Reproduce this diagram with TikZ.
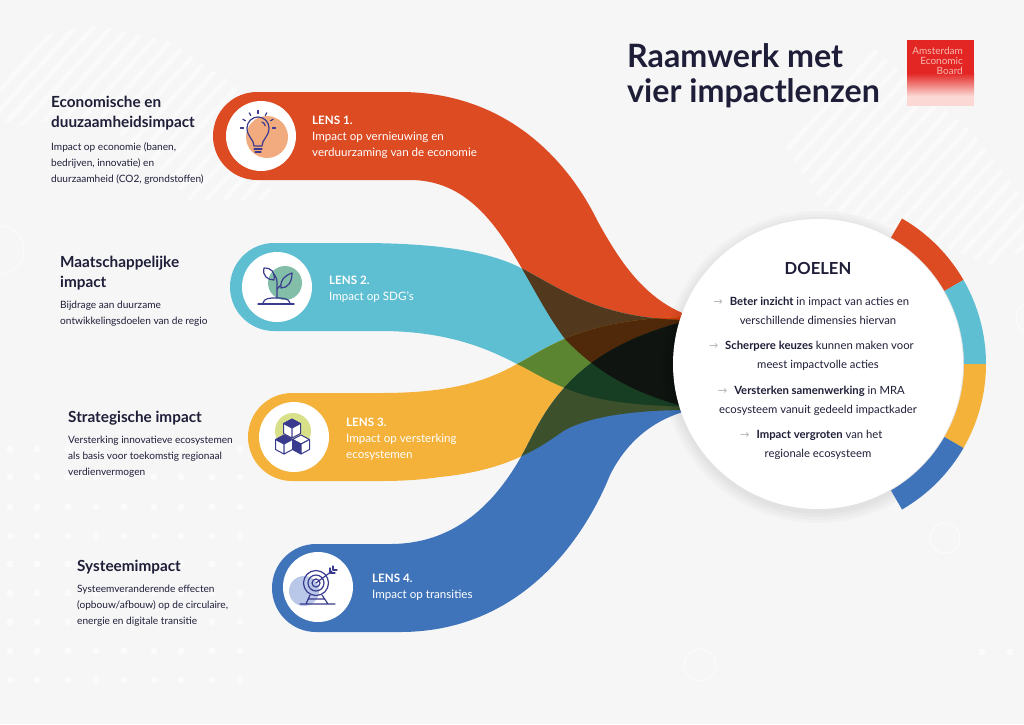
\documentclass[tikz,border=0pt]{standalone}
\usepackage{fontspec}
\setmainfont{Lato}
\newfontfamily\arrowfont{DejaVu Sans}
\definecolor{bgrey}{HTML}{F6F6F7}
\definecolor{lensred}{HTML}{DD4B22}
\definecolor{lensteal}{HTML}{5FBFD2}
\definecolor{lensyellow}{HTML}{F4B23A}
\definecolor{lensblue}{HTML}{3F74BA}
\definecolor{navy}{HTML}{3A3A8E}
\definecolor{inktext}{HTML}{1E1E38}
\definecolor{logored}{HTML}{E32624}
\definecolor{logopale}{HTML}{FBD8D3}
\definecolor{logoink}{HTML}{F6B8B0}
\definecolor{iconpeach}{HTML}{F2AB7E}
\definecolor{icongreen}{HTML}{83BFA8}
\definecolor{iconlime}{HTML}{D9E08A}
\definecolor{iconsky}{HTML}{B9C8E8}
\definecolor{ovRT}{HTML}{52381C}\definecolor{ovRY}{HTML}{D33408}\definecolor{ovRB}{HTML}{372219}
\definecolor{ovTY}{HTML}{5B8530}\definecolor{ovTB}{HTML}{175799}\definecolor{ovYB}{HTML}{3C512B}
\definecolor{ovRTY}{HTML}{50280A}\definecolor{ovRTB}{HTML}{141A14}\definecolor{ovRYB}{HTML}{341806}
\definecolor{ovTYB}{HTML}{173D23}\definecolor{ovAll}{HTML}{101410}
\tikzset{
  headtext/.style={anchor=north west, inner sep=0pt, align=left, text=inktext, font=\fontsize{15.3}{20}\selectfont\bfseries},
  bodytext/.style={anchor=north west, inner sep=0pt, align=left, text=inktext, font=\fontsize{10.1}{16}\selectfont},
  lenstext/.style={anchor=north west, inner sep=0pt, align=left, text=white, font=\fontsize{11.6}{16}\selectfont},
  goaltext/.style={anchor=center, inner sep=0pt, align=center, text=inktext, font=\fontsize{11.3}{18.6}\selectfont},
  icon/.style={draw=navy, line width=1.2pt, line cap=round, line join=round},
  stripe/.style={white, opacity=0.5, line width=4.5pt},
  faintring/.style={draw=white, opacity=0.45, line width=1.5pt}
}
\newcommand{\goalarrow}{\hspace*{3pt}\llap{{\arrowfont\textcolor{black!28}{→}}\hspace{7pt}}}
\newcommand{\bandred}{(257,92)--(400,92) .. controls (510,92) and (570,165) .. (597,220) .. controls (620,262) and (645,300) .. (690,316)--(690,408) .. controls (625,392) and (590,365) .. (565,339) .. controls (520,280) and (495,180) .. (410,180)--(257,180) arc (90:270:44)--cycle}
\newcommand{\bandteal}{(274,243)--(360,243) .. controls (440,243) and (490,252) .. (521,268) .. controls (560,288) and (600,320) .. (690,320)--(690,407) .. controls (640,405) and (600,403) .. (565,388) .. controls (545,380) and (530,370) .. (517,364) .. controls (490,350) and (450,331) .. (380,331)--(274,331) arc (90:270:44)--cycle}
\newcommand{\bandyellow}{(292,393)--(380,393) .. controls (440,393) and (480,385) .. (517,364) .. controls (545,350) and (580,318) .. (690,317)--(690,410) .. controls (630,410) and (590,417) .. (565,430) .. controls (540,447) and (510,470) .. (440,477) .. controls (420,480) and (400,481) .. (380,481)--(292,481) arc (90:270:44)--cycle}
\newcommand{\bandblue}{(316,544)--(390,544) .. controls (465,544) and (505,490) .. (530,440) .. controls (555,390) and (590,345) .. (690,320)--(690,410) .. controls (650,420) and (625,445) .. (610,475) .. controls (590,525) and (530,632) .. (400,632)--(316,632) arc (90:270:44)--cycle}
\begin{document}
\begin{tikzpicture}[x=1pt,y=-1pt]
\useasboundingbox (0,0) rectangle (1024,724);
\fill[bgrey] (0,0) rectangle (1024,724);

% background stripes
\begin{scope}
\clip (0,75)--(33,37)--(97,25)--(170,42)--(235,85)--(277,207)--(233,247)--(180,190)--(100,115)--(20,125)--(0,120)--cycle;
\foreach \s in {0,18,...,540} \draw[stripe] (\s-100,200)--(\s+100,-20);
\end{scope}
\begin{scope}
\clip (777,133)--(814,27)--(867,43)--(970,130)--(1024,200)--(1024,250)--(990,265)--(890,225)--(824,207)--cycle;
\foreach \s in {0,18,...,540} \draw[stripe] (\s+650,300)--(\s+950,-30);
\end{scope}

% background dots
\foreach \dx in {10,37,68,96,124,154,181,212,240}
  \foreach \dy in {449,477,507,536,564,593,622,651,680}
    \fill[white, opacity=0.6] (\dx,\dy) circle (3.5);
\fill[white, opacity=0.6] (982,652) circle (3.5) (1010,652) circle (3.5);
\draw[faintring] (945,538) circle (15);
\draw[faintring] (700,665) circle (16);
\draw[faintring] (0,250) circle (24);
\draw[faintring] (1032,318) circle (16);

% the four lenses
\fill[lensred] \bandred;
\fill[lensteal] \bandteal;
\fill[lensyellow] \bandyellow;
\fill[lensblue] \bandblue;
% where they overlap
\begin{scope}\clip \bandred;\clip \bandteal;\fill[ovRT] (0,0) rectangle (1024,724);\end{scope}
\begin{scope}\clip \bandred;\clip \bandyellow;\fill[ovRY] (0,0) rectangle (1024,724);\end{scope}
\begin{scope}\clip \bandred;\clip \bandblue;\fill[ovRB] (0,0) rectangle (1024,724);\end{scope}
\begin{scope}\clip \bandteal;\clip \bandyellow;\fill[ovTY] (0,0) rectangle (1024,724);\end{scope}
\begin{scope}\clip \bandteal;\clip \bandblue;\fill[ovTB] (0,0) rectangle (1024,724);\end{scope}
\begin{scope}\clip \bandyellow;\clip \bandblue;\fill[ovYB] (0,0) rectangle (1024,724);\end{scope}
\begin{scope}\clip \bandred;\clip \bandteal;\clip \bandyellow;\fill[ovRTY] (0,0) rectangle (1024,724);\end{scope}
\begin{scope}\clip \bandred;\clip \bandteal;\clip \bandblue;\fill[ovRTB] (0,0) rectangle (1024,724);\end{scope}
\begin{scope}\clip \bandred;\clip \bandyellow;\clip \bandblue;\fill[ovRYB] (0,0) rectangle (1024,724);\end{scope}
\begin{scope}\clip \bandteal;\clip \bandyellow;\clip \bandblue;\fill[ovTYB] (0,0) rectangle (1024,724);\end{scope}
\begin{scope}\clip \bandred;\clip \bandteal;\clip \bandyellow;\clip \bandblue;\fill[ovAll] (0,0) rectangle (1024,724);\end{scope}

% ring and circle
\foreach \rad in {156,153,150,147}
  \fill[black, opacity=0.02] (818,367) circle (\rad);
\foreach \aone/\atwo/\col in {-60/-30/lensred,-30/0/lensteal,0/30/lensyellow,30/60/lensblue}
  \fill[\col, shift={(818,364)}] (\aone:168) arc (\aone:\atwo:168)--(\atwo:146) arc (\atwo:\aone:146)--cycle;
\fill[white] (818,364) circle (145);

% icon discs
\fill[white] (261,136) circle (35) (277,287) circle (35) (294,437) circle (35) (318,587) circle (35);

% bulb
\fill[iconpeach] (267,137) circle (21);
\draw[icon] (254,146) .. controls (254,139) and (247,137) .. (247,128) arc (180:360:11) .. controls (269,137) and (262,139) .. (262,146)--cycle;
\draw[icon] (254,149)--(262,149) (255,152)--(261,152);
\draw[icon] (262,122) arc (-70:-10:5);
\foreach \a in {180,210,240,270,300,330,360}
  \draw[icon, shift={(258,128)}] (\a:14.5)--(\a:17.5);

% plant
\fill[icongreen] (285,283) circle (17);
\draw[icon] (258,304)--(294,304);
\draw[icon] (263,303) .. controls (264,298) and (270,298) .. (276,298) .. controls (282,298) and (289,298) .. (290,303);
\draw[icon] (277,298)--(277,282) .. controls (277,278) and (275,276) .. (274,274);
\draw[icon] (277,289) .. controls (279,287) and (280,286) .. (281,285);
\draw[icon] (264,268) .. controls (272,268) and (275,272) .. (274,280) .. controls (268,280) and (262,276) .. (264,268)--cycle;
\draw[icon] (292,273) .. controls (292,282) and (288,288) .. (281,288) .. controls (280,280) and (284,276) .. (292,273)--cycle;

% cubes
\fill[iconlime] (293,431) circle (18);
\foreach \cx/\cy/\ctop/\cleft in {292/428/navy/white,284/444/navy/white,301/444/white/navy}{
  \begin{scope}[shift={(\cx,\cy)}]
    \filldraw[icon, line width=1pt, fill=\ctop] (0,-9)--(8.5,-4.5)--(0,0)--(-8.5,-4.5)--cycle;
    \filldraw[icon, line width=1pt, fill=\cleft] (-8.5,-4.5)--(0,0)--(0,10)--(-8.5,5.5)--cycle;
    \filldraw[icon, line width=1pt, fill=white] (8.5,-4.5)--(0,0)--(0,10)--(8.5,5.5)--cycle;
  \end{scope}
}

% target
\fill[iconsky] (304,591) circle (15);
\draw[icon] (300,604)--(335,604) (310,595)--(306,604) (322,595)--(328,604) (308,599)--(324,599);
\draw[icon] (316,583) circle (12.5) (316,583) circle (8) (316,583) circle (4);
\draw[icon] (316,583)--(332,571);
\draw[icon] (330,568)--(330,573)--(335,573) (333,566)--(333,570)--(337,570);

% lens texts
\node[lenstext] (lensone) at (312,116) {\textbf{LENS 1.}\\Impact op vernieuwing en\\verduurzaming van de economie};
\node[lenstext] (lenstwo) at (329,276) {\textbf{LENS 2.}\\Impact op SDG's};
\node[lenstext] (lensthree) at (346,418) {\textbf{LENS 3.}\\Impact op versterking\\ecosystemen};
\node[lenstext] (lensfour) at (372,574) {\textbf{LENS 4.}\\Impact op transities};

% left column
\node[headtext] (headone) at (51,96) {Economische en\\duuzaamheidsimpact};
\node[bodytext] (bodyone) at (51,142) {Impact op economie (banen,\\bedrijven, innovatie) en\\duurzaamheid (CO2, grondstoffen)};
\node[headtext] (headtwo) at (60,256) {Maatschappelijke\\impact};
\node[bodytext] (bodytwo) at (60,301) {Bijdrage aan duurzame\\ontwikkelingsdoelen van de regio};
\node[headtext] (headthree) at (68,411) {Strategische impact};
\node[bodytext] (bodythree) at (68,436) {Versterking innovatieve ecosystemen\\als basis voor toekomstig regionaal\\verdienvermogen};
\node[headtext] (headfour) at (77,560) {Systeemimpact};
\node[bodytext] (bodyfour) at (77,585) {Systeemveranderende effecten\\(opbouw/afbouw) op de circulaire,\\energie en digitale transitie};

% title and logo
\node[anchor=north west, inner sep=0pt, align=left, text=inktext, font=\fontsize{32.2}{35}\selectfont\bfseries] (title) at (627,43) {Raamwerk met\\vier impactlenzen};
\fill[logored] (907,40) rectangle (974,73);
\shade[top color=logored, bottom color=logopale] (907,73) rectangle (974,96);
\fill[logopale] (907,96) rectangle (974,106);
\node[anchor=north east, inner sep=0pt, align=right, text=logoink, font=\fontsize{10}{10}\selectfont] (logo) at (963,47) {Amsterdam\\Economic\\Board\hspace{6pt}};

% goals
\node[text=inktext, inner sep=0pt, font=\fontsize{16.6}{18}\selectfont\bfseries] (doelen) at (818,268) {DOELEN};
\node[goaltext] (goalone) at (818,311) {\goalarrow\textbf{Beter inzicht} in impact van acties en\\verschillende dimensies hiervan};
\node[goaltext] (goaltwo) at (818,356) {\goalarrow\textbf{Scherpere keuzes} kunnen maken voor\\meest impactvolle acties};
\node[goaltext] (goalthree) at (818,401) {\goalarrow\textbf{Versterken samenwerking} in MRA\\ecosysteem vanuit gedeeld impactkader};
\node[goaltext] (goalfour) at (818,445) {\goalarrow\textbf{Impact vergroten} van het\\regionale ecosysteem};
\end{tikzpicture}
\end{document}
